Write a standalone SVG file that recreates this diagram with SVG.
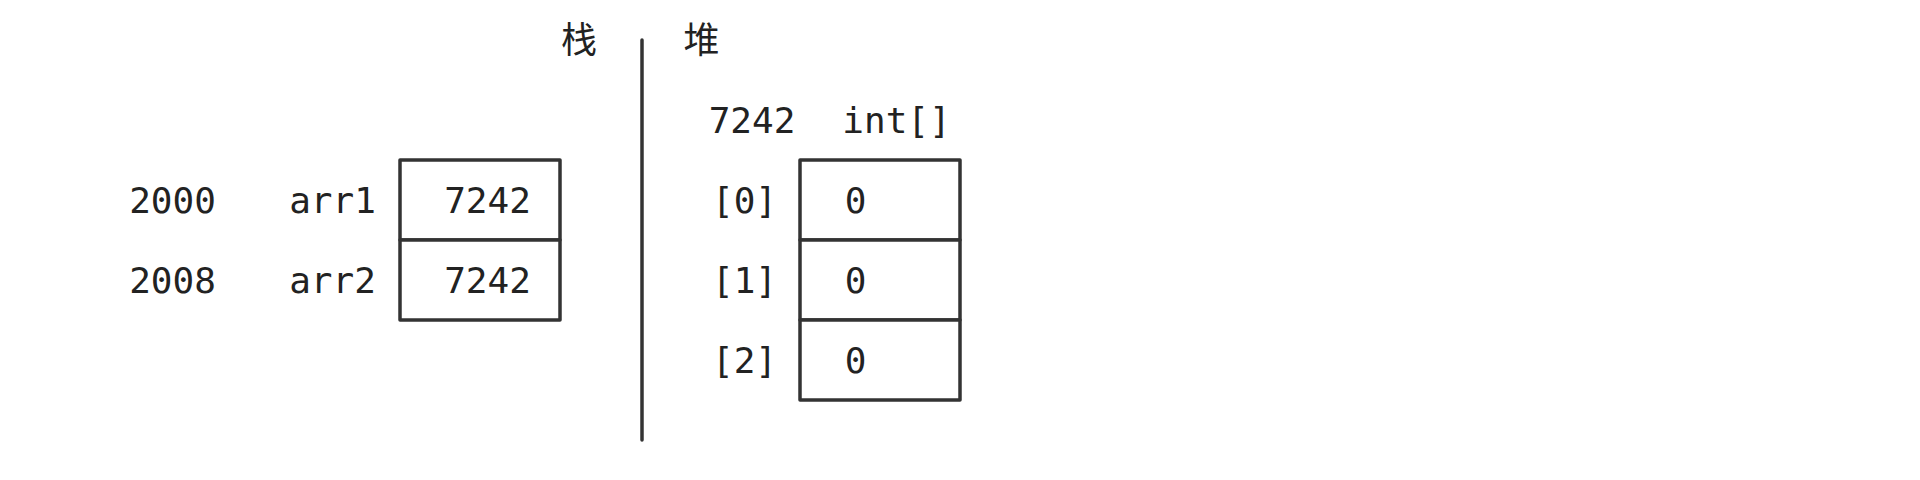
<svg xmlns="http://www.w3.org/2000/svg" width="1920" height="480" viewBox="0 0 1920 480">
<style>
.t{font-family:"DejaVu Sans Mono","Liberation Mono",monospace;font-size:36px;fill:#222;text-anchor:middle}
.c{font-family:"Noto Sans CJK SC","Noto Sans CJK JP",sans-serif;font-size:36px;fill:#222;text-anchor:middle}
.b{fill:#fff;stroke:#333;stroke-width:3.5;stroke-linejoin:round;stroke-linecap:round}
.l{stroke:#333;stroke-width:3.5;stroke-linecap:round;fill:none}
</style>
<rect width="1920" height="480" fill="#fff"/>
<g id="labels">
<text class="c" x="579" y="53">栈</text>
<text class="c" x="701.5" y="53">堆</text>
</g>
<g id="connectors">
<line class="l" x1="642" y1="40" x2="642" y2="440"/>
</g>
<g id="stack">
<g id="stack-arr1">
<rect class="b" x="400" y="160" width="160" height="80"/>
<text class="t" x="172.5" y="213">2000</text>
<text class="t" x="332.5" y="213">arr1</text>
<text class="t" x="487.5" y="213">7242</text>
</g>
<g id="stack-arr2">
<rect class="b" x="400" y="240" width="160" height="80"/>
<text class="t" x="172.5" y="293">2008</text>
<text class="t" x="332.5" y="293">arr2</text>
<text class="t" x="487.5" y="293">7242</text>
</g>
</g>
<g id="heap">
<g id="heap-header">
<text class="t" x="752" y="133">7242</text>
<text class="t" x="896.5" y="133">int[]</text>
</g>
<g id="heap-0">
<rect class="b" x="800" y="160" width="160" height="80"/>
<text class="t" x="744.5" y="213">[0]</text>
<text class="t" x="855.5" y="213">0</text>
</g>
<g id="heap-1">
<rect class="b" x="800" y="240" width="160" height="80"/>
<text class="t" x="744.5" y="293">[1]</text>
<text class="t" x="855.5" y="293">0</text>
</g>
<g id="heap-2">
<rect class="b" x="800" y="320" width="160" height="80"/>
<text class="t" x="744.5" y="373">[2]</text>
<text class="t" x="855.5" y="373">0</text>
</g>
</g>
</svg>
